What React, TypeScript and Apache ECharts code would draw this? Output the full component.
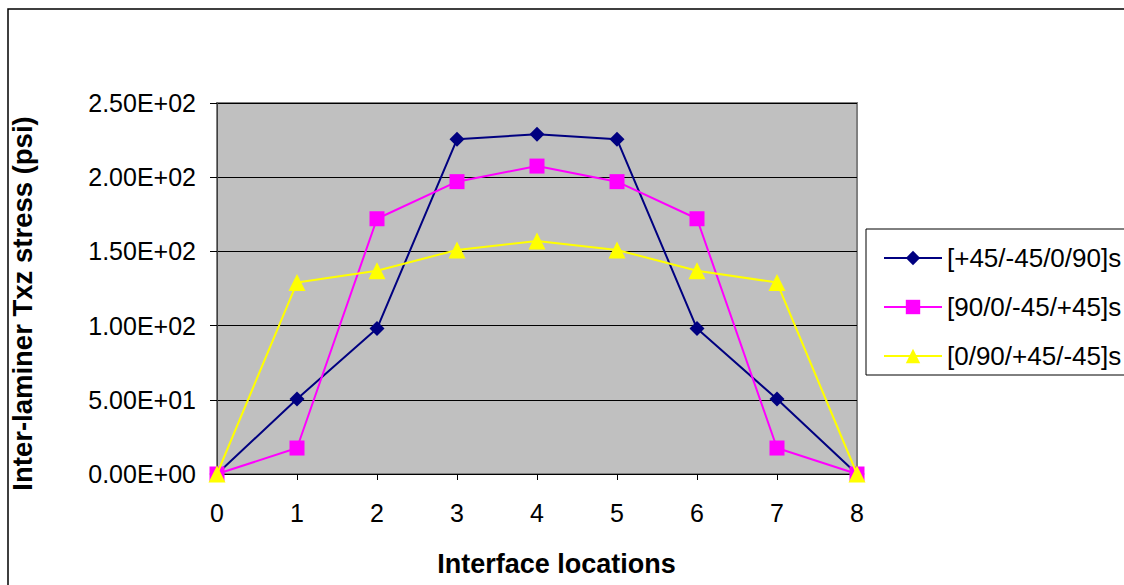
import React, { useEffect, useRef } from "react";
import * as echarts from "echarts";

const locations = [0, 1, 2, 3, 4, 5, 6, 7, 8];
const seriesNames = ["[+45/-45/0/90]s", "[90/0/-45/+45]s", "[0/90/+45/-45]s"];
const layupA = [0, 50.5, 98, 225.5, 229, 225.5, 98, 50.5, 0];
const layupB = [0, 17.5, 172, 197, 207.5, 197, 172, 17.5, 0];
const layupC = [0, 129, 137, 151, 157, 151, 137, 129, 0];
const seriesColors = ["#000080", "#ff00ff", "#ffff00"];
const seriesSymbols = ["diamond", "rect", "triangle"];
const seriesSizes = [15, 15, 17];

const FONT = "'Liberation Sans', Arial, sans-serif";

function fmtExp(v: number): string {
  const s = v.toExponential(2);
  const [m, e] = s.split("e");
  const sign = e[0] === "-" ? "-" : "+";
  const digits = e.replace(/[+-]/, "").padStart(2, "0");
  return `${m}E${sign}${digits}`;
}

export default function App() {
  const ref = useRef<HTMLDivElement>(null);
  useEffect(() => {
    document.body.style.margin = "0";
    if (!ref.current) return;
    const chart = echarts.init(ref.current, undefined, { renderer: "svg" });
    const datasets = [layupA, layupB, layupC];
    chart.setOption({
      animation: false,
      backgroundColor: "#ffffff",
      graphic: [
        {
          type: "rect",
          shape: { x: 8, y: 9, width: 1200, height: 700 },
          style: { fill: "none", stroke: "#000", lineWidth: 1.5 },
          silent: true,
        },
        {
          type: "rect",
          shape: { x: 866, y: 229, width: 300, height: 146 },
          style: { fill: "#ffffff", stroke: "#000", lineWidth: 1 },
          silent: true,
        },
      ],
      legend: {
        orient: "vertical",
        left: 878,
        top: 240,
        itemWidth: 58,
        itemHeight: 18,
        itemGap: 23,
        textStyle: { fontFamily: FONT, fontSize: 26, color: "#000" },
        data: seriesNames,
      },
      grid: {
        left: 213,
        top: 103,
        right: 1124 - 857,
        bottom: 585 - 474,
        show: true,
        backgroundColor: "#c0c0c0",
        borderColor: "#808080",
        borderWidth: 2,
      },
      xAxis: {
        type: "value",
        min: 0,
        max: 8,
        interval: 1,
        name: "Interface locations",
        nameLocation: "middle",
        nameGap: 76,
        nameTextStyle: {
          fontFamily: FONT,
          fontSize: 27,
          fontWeight: "bold",
          color: "#000",
          padding: [0, 0, 0, 39],
        },
        axisLine: { show: true, lineStyle: { color: "#000", width: 1 } },
        axisTick: { show: true, length: 6, lineStyle: { color: "#000" } },
        axisLabel: {
          margin: 26,
          fontFamily: FONT,
          fontSize: 25,
          color: "#000",
        },
        splitLine: { show: false },
      },
      yAxis: {
        type: "value",
        min: 0,
        max: 250,
        interval: 50,
        name: "Inter-laminer Txz stress (psi)",
        nameLocation: "middle",
        nameRotate: 90,
        nameGap: 181,
        nameTextStyle: {
          fontFamily: FONT,
          fontSize: 27.5,
          fontWeight: "bold",
          color: "#000",
          padding: [0, 30, 0, 0],
        },
        axisLine: { show: true, lineStyle: { color: "#404040", width: 1 } },
        axisTick: { show: true, length: 7, lineStyle: { color: "#000" } },
        axisLabel: {
          margin: 21,
          fontFamily: FONT,
          fontSize: 25,
          color: "#000",
          formatter: (v: number) => fmtExp(v),
        },
        splitLine: { show: true, lineStyle: { color: "#000", width: 1 } },
      },
      series: datasets.map((d, i) => ({
        name: seriesNames[i],
        type: "line",
        data: locations.map((x, j) => [x, d[j]]),
        symbol: seriesSymbols[i],
        symbolSize: seriesSizes[i],
        showAllSymbol: true,
        clip: false,
        lineStyle: { color: seriesColors[i], width: 2 },
        itemStyle: { color: seriesColors[i] },
        z: 3 + i,
      })),
    });
    return () => chart.dispose();
  }, []);
  return <div ref={ref} style={{ width: 1124, height: 585 }} />;
}
